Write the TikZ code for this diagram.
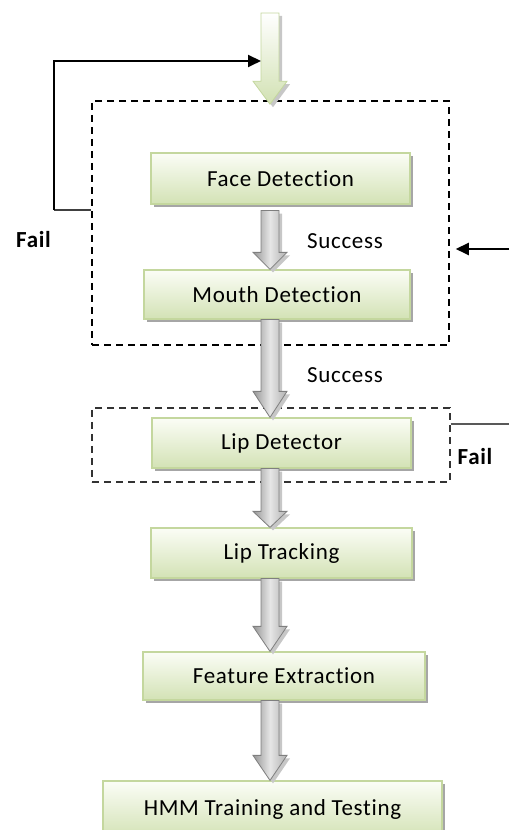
\documentclass[tikz,border=0pt]{standalone}
\usepackage{fontspec}
\setmainfont{Carlito}[LetterSpace=3, Ligatures={NoCommon}]
\usetikzlibrary{calc,arrows.meta,shadows}

\definecolor{boxtop}{HTML}{FBFDF6}
\definecolor{boxbot}{HTML}{D3E2B5}
\definecolor{boxedge}{HTML}{C4D79E}
\definecolor{arrowedge}{HTML}{7F7F7F}
\definecolor{arrowdark}{HTML}{959595}
\definecolor{arrowlight}{HTML}{E6E6E6}
\definecolor{arrowmid}{HTML}{B0B0B0}

% outline of a downward block arrow: x, top y, tip y, head length, offset
\newcommand\bashape[5]{%
  (#1-9pt+#5,#2-#5) -- (#1+9pt+#5,#2-#5) -- (#1+9pt+#5,#3+#4-#5) --
  (#1+17pt+#5,#3+#4-#5) -- (#1+#5,#3-#5) -- (#1-17pt+#5,#3+#4-#5) --
  (#1-9pt+#5,#3+#4-#5) -- cycle}

% block arrow from the bottom of node #1 to the top of node #2
% #3 = gap below #1, #4 = head length
\newcommand\blockarrow[4]{%
  \path[arrowshadow] let \p1=($(spine |- #1.south)+(0,-#3)$), \p2=(spine |- #2.north) in
    \bashape{\x1}{\y1}{\y2}{#4}{3pt};
  \path[grayarrow] let \p1=($(spine |- #1.south)+(0,-#3)$), \p2=(spine |- #2.north) in
    \bashape{\x1}{\y1}{\y2}{#4}{0pt};}

\begin{document}
\begin{tikzpicture}[x=1pt,y=1pt,
  every node/.style={font=\fontsize{23}{27}\selectfont},
  stage/.style={draw=boxedge, line width=1.2pt, top color=boxtop, bottom color=boxbot,
    inner sep=0pt, text=black,
    drop shadow={shadow xshift=3pt, shadow yshift=-3pt, fill=black!35, opacity=1}},
  group/.style={draw=black, line width=1.5pt, dash pattern=on 7pt off 5pt, inner sep=0pt},
  groupthin/.style={draw=black!80, line width=1.2pt, dash pattern=on 7pt off 5pt, inner sep=0pt},
  grayarrow/.style={draw=arrowedge, line width=0.8pt, left color=arrowdark,
    right color=arrowmid, middle color=arrowlight},
  greenarrow/.style={draw=boxedge, line width=0.8pt, top color=white, bottom color=boxbot!90!boxedge},
  arrowshadow/.style={fill=black!22},
  flowline/.style={draw=black, line width=2pt},
  tip/.style={-{Triangle[length=13pt,width=12pt]}},
  label/.style={font=\fontsize{23}{27}\selectfont},
  faillabel/.style={font=\fontsize{23}{27}\selectfont\bfseries}]

\useasboundingbox (0,0) rectangle (509,830);
\coordinate (spine) at (270,0);

% dashed groups
\node[group, minimum width=357pt, minimum height=244pt] (detect) at (270.5,607) {};
\node[groupthin, minimum width=358pt, minimum height=74pt] (lipgroup) at (271,385) {};

% process stages
\node[stage, minimum width=259pt, minimum height=51pt] (face) at (280.5,651.5) {Face Detection};
\node[stage, minimum width=266pt, minimum height=49pt] (mouth) at (277,535.5) {Mouth Detection};
\node[stage, minimum width=259pt, minimum height=50pt] (lipdet) at (281.5,387) {Lip Detector};
\node[stage, minimum width=261pt, minimum height=50pt] (liptrack) at (281.5,277) {Lip Tracking};
\node[stage, minimum width=282pt, minimum height=48pt] (feature) at (284,154) {Feature Extraction};
\node[stage, minimum width=339pt, minimum height=57pt] (hmm) at (272.5,20.5) {HMM Training and Testing};

% input arrow into the detection group
\coordinate (input) at (270,817);
\path[arrowshadow] let \p1=(input), \p2=($(spine |- detect.north)+(0,-4)$) in
  \bashape{\x1}{\y1}{\y2}{23pt}{3pt};
\path[greenarrow] let \p1=(input), \p2=($(spine |- detect.north)+(0,-4)$) in
  \bashape{\x1}{\y1}{\y2}{23pt}{0pt};
\coordinate (inlet) at (261,769);

% flow between stages
\blockarrow{face}{mouth}{6pt}{17pt}
\blockarrow{mouth}{lipdet}{0pt}{26pt}
\blockarrow{lipdet}{liptrack}{0pt}{16pt}
\blockarrow{liptrack}{feature}{0pt}{25pt}
\blockarrow{feature}{hmm}{0pt}{25pt}

% retry path when detection fails
\coordinate (failout) at ($(detect.north west)!0.447!(detect.south west)$);
\coordinate (failcorner) at ($(failout)+(-37,0)$);
\draw[draw=black!75, line width=1.8pt] (failout) -- (failcorner);
\draw[flowline, tip] (failcorner) |- (inlet);

% re-entry from the lip detector failure
\coordinate (rin) at (509,581);
\draw[flowline, tip] (rin) -- ($(detect.east |- rin)+(6,0)$);
\coordinate (lipout) at ($(lipgroup.north east)!0.216!(lipgroup.south east)$);
\draw[draw=black!65, line width=2pt] (lipout) -- (lipout -| rin);

% labels
\node[faillabel] (fail1) at (33.5,590) {Fail};
\node[faillabel] (fail2) at (475,373) {Fail};
\node[label] (succ1) at (345,589) {Success};
\node[label] (succ2) at (345,455) {Success};
\end{tikzpicture}
\end{document}
